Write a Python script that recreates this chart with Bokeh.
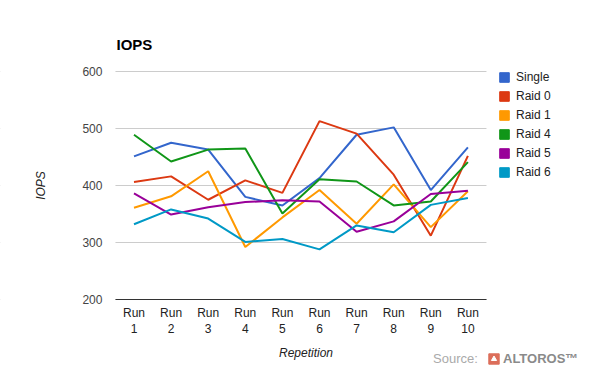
from bokeh.plotting import figure
from bokeh.models import (Range1d, FixedTicker, Legend, LegendItem, Label, BoxAnnotation)
from bokeh.embed import file_html
from bokeh.resources import INLINE

runs = ["Run 1", "Run 2", "Run 3", "Run 4", "Run 5", "Run 6", "Run 7", "Run 8", "Run 9", "Run 10"]
x_pos = list(range(1, len(runs) + 1))

single = [451, 475, 463, 380, 365, 413, 489, 502, 392, 467]
raid0 = [406, 416, 375, 409, 387, 513, 491, 419, 312, 452]
raid1 = [361, 381, 425, 292, 344, 392, 333, 402, 327, 390]
raid4 = [489, 442, 463, 465, 351, 411, 407, 365, 372, 441]
raid5 = [386, 349, 362, 371, 374, 372, 319, 337, 385, 391]
raid6 = [332, 358, 342, 301, 306, 288, 330, 318, 366, 378]

series_names = ["Single", "Raid 0", "Raid 1", "Raid 4", "Raid 5", "Raid 6"]
series_values = [single, raid0, raid1, raid4, raid5, raid6]
colors = ["#3366cc", "#dc3912", "#ff9900", "#109618", "#990099", "#0099c6"]
y_ticks = [200, 300, 400, 500, 600]
y_min, y_max = 200, 600

FONT = "Liberation Sans"
NAN = float("nan")

# ---- layout geometry (pixels of the 600x371 canvas) ----
W, H = 600, 371
RUN1_PX, PX_PER_RUN = 133.5, 37.1      # x pixel of first category, spacing
TOP_PX, PX_PER_UNIT = 71.0, 0.57       # pixel of y_max, pixels per y unit


def dx(px):
    return 1 + (px - RUN1_PX) / PX_PER_RUN


def dy(py):
    return y_max - (py - TOP_PX) / PX_PER_UNIT


p = figure(frame_width=W, frame_height=H, output_backend="svg", toolbar_location=None,
           title_location=None,
           x_range=Range1d(dx(0), dx(W)), y_range=Range1d(dy(H), dy(0)),
           min_border_left=0, min_border_right=0, min_border_top=0, min_border_bottom=0)
p.outline_line_color = None
p.background_fill_color = "white"
p.border_fill_color = "white"

x_lo, x_hi = 0.5, len(runs) + 0.5

# x axis drawn at the bottom of the chart area
p.xaxis.fixed_location = y_min
p.xaxis.bounds = (x_lo, x_hi)
p.xaxis.ticker = FixedTicker(ticks=x_pos)
p.xaxis.major_label_overrides = {x: r.replace(" ", "\n") for x, r in zip(x_pos, runs)}
p.xaxis.major_tick_line_color = None
p.xaxis.minor_tick_line_color = None
p.xaxis.axis_line_color = "#333333"
p.xaxis.axis_line_width = 1
p.xaxis.major_label_text_font = FONT
p.xaxis.major_label_text_font_size = "12px"
p.xaxis.major_label_text_color = "#222222"
p.xaxis.major_label_standoff = 0

# y axis drawn at the left of the chart area
p.yaxis.fixed_location = x_lo
p.yaxis.bounds = (y_min, y_max)
p.yaxis.ticker = FixedTicker(ticks=y_ticks)
p.yaxis.major_tick_line_color = None
p.yaxis.minor_tick_line_color = None
p.yaxis.axis_line_color = None
p.yaxis.major_label_text_font = FONT
p.yaxis.major_label_text_font_size = "12px"
p.yaxis.major_label_text_color = "#444444"
p.yaxis.major_label_standoff = 7
p.yaxis.axis_label = "IOPS"
p.yaxis.axis_label_text_font = FONT
p.yaxis.axis_label_text_font_style = "italic"
p.yaxis.axis_label_text_font_size = "12px"
p.yaxis.axis_label_text_color = "#222222"
p.yaxis.axis_label_standoff = 31

p.xgrid.grid_line_color = None
p.ygrid.grid_line_color = "#cccccc"
p.ygrid.grid_line_width = 1

# keep grid lines within the chart area
for kw in ({"right": x_lo}, {"left": x_hi}):
    p.add_layout(BoxAnnotation(fill_color="white", fill_alpha=1, line_color=None,
                               level="underlay", **kw))

items = []
for name, vals, c in zip(series_names, series_values, colors):
    p.line(x_pos, vals, line_color=c, line_width=2)
    key = p.rect([NAN], [NAN], width=1, height=1, fill_color=c, line_color=c)
    items.append(LegendItem(label=name, renderers=[key]))

legend = Legend(items=items, location=(498, 192), orientation="vertical",
                glyph_width=12, glyph_height=12, label_height=12, spacing=5,
                label_standoff=6, padding=0, margin=0,
                border_line_color=None, background_fill_alpha=0,
                label_text_font=FONT, label_text_font_size="12px",
                label_text_color="#222222")
p.add_layout(legend, "center")

# title and x axis title
p.add_layout(Label(x=dx(116), y=dy(44), text="IOPS", text_font=FONT, text_font_size="15px",
                   text_font_style="bold", text_color="#000000", text_baseline="middle",
                   text_align="left"))
p.add_layout(Label(x=dx(305.5), y=dy(352), text="Repetition", text_font=FONT,
                   text_font_size="12px", text_font_style="italic", text_color="#222222",
                   text_baseline="middle", text_align="center"))

# source credit
blank = p.rect([NAN], [NAN], width=1, height=1, fill_alpha=0, line_alpha=0)
src_text = Legend(items=[LegendItem(label="Source:", renderers=[blank])],
                  location=(433, 5), orientation="horizontal",
                  glyph_width=0, glyph_height=13, label_height=13, spacing=0,
                  label_standoff=0, padding=0, margin=0,
                  border_line_color=None, background_fill_alpha=0,
                  label_text_font=FONT, label_text_font_size="13px",
                  label_text_color="#aaaaaa")
p.add_layout(src_text, "center")

icon_bg = p.rect([NAN], [NAN], width=1, height=1, fill_color="#dc6e5a", line_color="#dc6e5a")
icon_tri = p.scatter([NAN], [NAN], marker="triangle", size=11, fill_color="white", line_color="white")
src_logo = Legend(items=[LegendItem(label="ALTOROS\u2122", renderers=[icon_bg, icon_tri])],
                  location=(487, 5), orientation="horizontal",
                  glyph_width=13, glyph_height=13, label_height=13, spacing=0,
                  label_standoff=3, padding=0, margin=0,
                  border_line_color=None, background_fill_alpha=0,
                  label_text_font=FONT, label_text_font_size="13px",
                  label_text_font_style="bold", label_text_color="#8a8a8a")
p.add_layout(src_logo, "center")

open("out.html", "w").write(file_html(p, INLINE))
